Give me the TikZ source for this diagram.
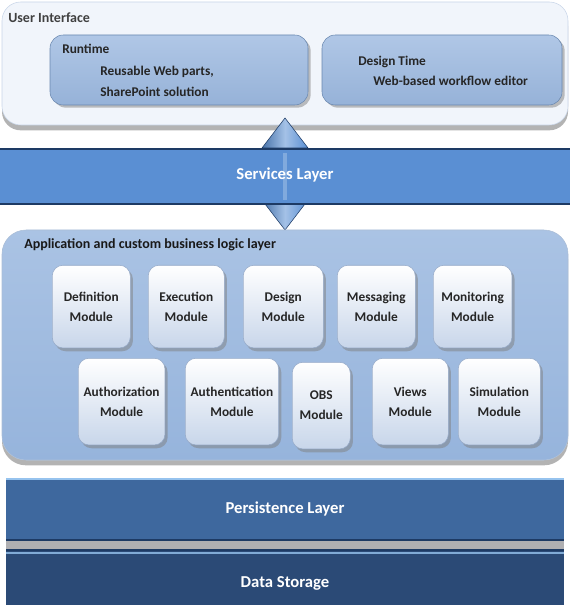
\documentclass[tikz,border=0pt]{standalone}
\usepackage{fontspec}
\setmainfont{Carlito}
\usetikzlibrary{shapes.arrows,shadows,positioning}

\definecolor{uiback}{RGB}{241,245,251}
\definecolor{uiline}{RGB}{200,213,232}
\definecolor{subtop}{RGB}{176,199,230}
\definecolor{subbot}{RGB}{150,178,216}
\definecolor{subline}{RGB}{105,135,175}
\definecolor{svcblue}{RGB}{90,143,211}
\definecolor{svcline}{RGB}{29,58,100}
\definecolor{apptop}{RGB}{170,195,228}
\definecolor{appbot}{RGB}{150,180,220}
\definecolor{modbot}{RGB}{200,214,234}
\definecolor{modline}{RGB}{150,170,200}
\definecolor{persblue}{RGB}{62,104,158}
\definecolor{perslight}{RGB}{150,195,238}
\definecolor{storblue}{RGB}{43,74,118}
\definecolor{gapgray}{RGB}{175,175,178}

\tikzset{
  panel/.style={draw=uiline, rounded corners=14, fill=uiback,
    drop shadow={shadow xshift=0pt, shadow yshift=-4pt, opacity=0.6}},
  subbox/.style={draw=subline, rounded corners=10, top color=subtop, bottom color=subbot,
    drop shadow={shadow xshift=2pt, shadow yshift=-2pt, opacity=0.5}},
  module/.style={draw=modline, rounded corners=8, top color=white, bottom color=modbot,
    align=center, inner sep=0pt, anchor=north west, text=black!85,
    font=\bfseries\fontsize{10}{15}\selectfont,
    drop shadow={shadow xshift=2pt, shadow yshift=-2.5pt, opacity=0.5}},
  band/.style={white, font=\bfseries\fontsize{12.5}{15}\selectfont},
  boxtext/.style={anchor=west, inner sep=0pt, text=black!85, font=\bfseries\fontsize{10}{12}\selectfont},
}

\begin{document}
\begin{tikzpicture}[x=0.75pt,y=0.75pt,yscale=-1,xscale=1]
    \useasboundingbox (0,0) rectangle (570,605);

    %Shape: User interface panel
    \draw [panel] (2,2) rectangle (568,125);
    % Text Node
    \node (ui) [anchor=west, inner sep=0pt, text=black!75, font=\bfseries\fontsize{10.5}{12}\selectfont] at (8,18) {User Interface};

    %Shape: Runtime box
    \draw [subbox] (50,35) rectangle (308,105);
    \node (rt) [boxtext] at (62,49) {Runtime};
    \node (rt1) [boxtext] at (100,72) {Reusable Web parts,};
    \node (rt2) [boxtext] at (100,92) {SharePoint solution};
    %Shape: Design time box
    \draw [subbox] (322,35) rectangle (562,105);
    \node (dt) [boxtext] at (358,62) {Design Time};
    \node (dt1) [boxtext] at (373,81) {Web-based workflow editor};

    %Shape: Double arrow
    \node (arr) [double arrow, rotate=90, draw=svcline, left color=svcblue!80!black, right color=svcblue, middle color=svcblue!55!white,
      minimum height=84pt, minimum width=34.5pt, inner sep=0pt,
      double arrow head extend=13pt, double arrow tip angle=75] at (285,174) {};

    %Shape: Services band
    \fill [svcblue] (0,149) rectangle (570,204);
    \draw [svcline, line width=1.5pt] (0,149) -- (570,149);
    \draw [svcline, line width=1.5pt] (0,204) -- (570,204);
    \fill [svcblue!60!white, opacity=0.6] (283,153) rectangle (287,200);
    \node (svc) [band] at (285,175) {Services Layer};

    %Shape: Application panel
    \draw [panel, draw=uiline!70!subline, top color=apptop, bottom color=appbot, rounded corners=18] (2,230) rectangle (568,460);
    \node (app) [anchor=west, inner sep=0pt, text=black!90, font=\bfseries\fontsize{10.5}{12}\selectfont] at (24,245) {Application and custom business logic layer};

    % Module row 1
    \node (defn) [module, minimum width=58.5pt, minimum height=62pt] at (52,265) {Definition\\Module};
    \node (exec) [module, minimum width=57pt, minimum height=62pt] at (148,265) {Execution\\Module};
    \node (dsgn) [module, minimum width=60pt, minimum height=62pt] at (243,265) {Design\\Module};
    \node (msg) [module, minimum width=58.5pt, minimum height=62pt] at (337,265) {Messaging\\Module};
    \node (mon) [module, minimum width=59pt, minimum height=62pt] at (433,265) {Monitoring\\Module};
    % Module row 2
    \node (authz) [module, minimum width=65pt, minimum height=65pt] at (78,358) {Authorization\\Module};
    \node (authn) [module, minimum width=70pt, minimum height=65pt] at (185,358) {Authentication\\Module};
    \node (obs) [module, minimum width=43.5pt, minimum height=65pt] at (292,362) {OBS\\Module};
    \node (views) [module, minimum width=57pt, minimum height=65pt] at (372,358) {Views\\Module};
    \node (sim) [module, minimum width=61.5pt, minimum height=65pt] at (458,358) {Simulation\\Module};

    %Shape: Persistence band
    \fill [persblue] (6,478) rectangle (564,540);
    \draw [perslight, line width=1.2pt] (6,479) -- (564,479);
    \draw [svcline, line width=1pt] (6,540) -- (564,540);
    \fill [gapgray] (6,541) rectangle (564,550);
    \node (pers) [band] at (285,509) {Persistence Layer};

    %Shape: Data storage band
    \draw [svcline, line width=1pt] (6,550) -- (564,550);
    \fill [storblue] (6,551) rectangle (564,605);
    \draw [perslight!80!storblue, line width=1.2pt] (6,553) -- (564,553);
    \node (stor) [band] at (285,583) {Data Storage};

\end{tikzpicture}
\end{document}
